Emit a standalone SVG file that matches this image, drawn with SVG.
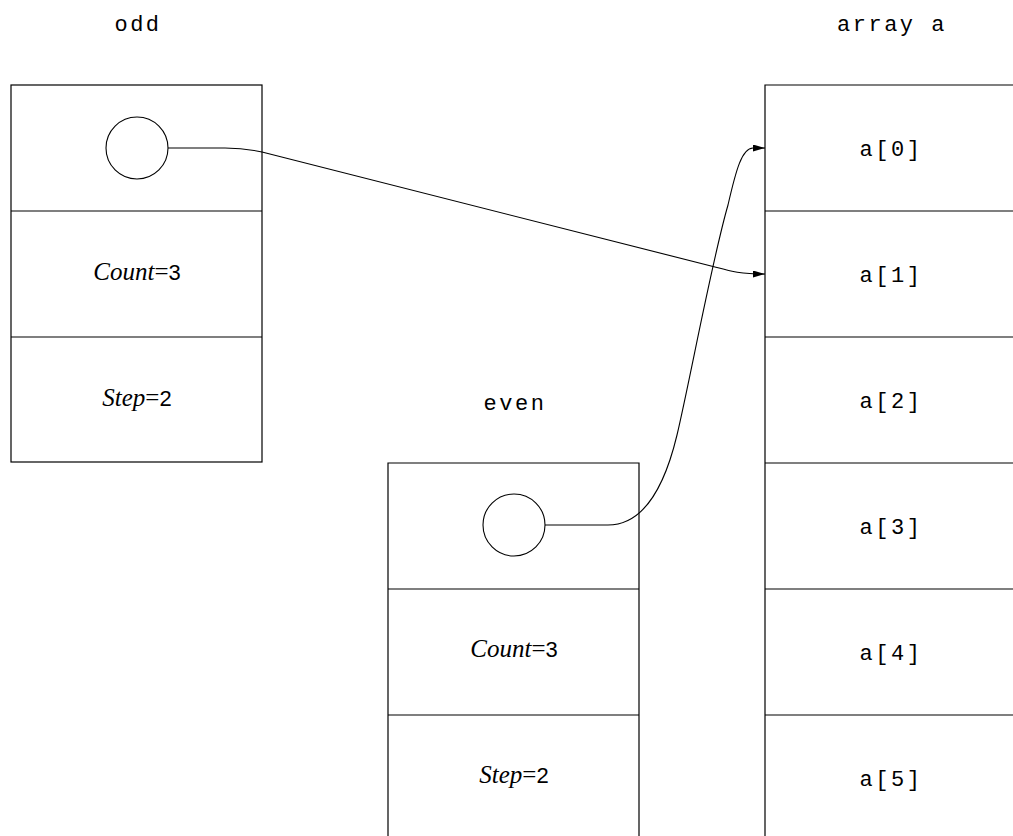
<svg xmlns="http://www.w3.org/2000/svg" width="1013" height="836" viewBox="0 0 1013 836">
<style>
.box{fill:none;stroke:#000;stroke-width:1.2}
.ln{stroke:#000;stroke-width:1.2}
.ptr{fill:none;stroke:#000;stroke-width:1.1}
.mono{font-family:"Liberation Mono","Courier New",monospace;font-size:22px;letter-spacing:2.5px;fill:#000;text-anchor:middle}
.lbl{font-family:"Liberation Serif","Times New Roman",serif;font-size:25px;fill:#000;text-anchor:middle}
.it{font-style:italic}
.sans{font-family:"Liberation Sans",Arial,sans-serif;font-size:22px}
.conn{fill:none;stroke:#000;stroke-width:1.1}
</style>
<defs>
<marker id="ah" markerUnits="userSpaceOnUse" markerWidth="14" markerHeight="10" refX="12" refY="3.5" orient="auto">
<path d="M0,0 L12,3.5 L0,7 Z" fill="#000"/>
</marker>
</defs>
<rect width="1013" height="836" fill="#fff"/>
<g id="odd">
<text class="mono" x="138" y="31">odd</text>
<rect class="box" x="11" y="85" width="251" height="377"/>
<line class="ln" x1="11" y1="211" x2="262" y2="211"/>
<line class="ln" x1="11" y1="337" x2="262" y2="337"/>
<circle class="ptr" cx="137" cy="148" r="31"/>
<text class="lbl" x="137" y="280"><tspan class="it">Count</tspan>=<tspan class="sans">3</tspan></text>
<text class="lbl" x="137" y="406"><tspan class="it">Step</tspan>=<tspan class="sans">2</tspan></text>
</g>
<g id="even">
<text class="mono" x="515" y="410">even</text>
<path class="box" d="M388,840 L388,463 L639,463 L639,840"/>
<line class="ln" x1="388" y1="589" x2="639" y2="589"/>
<line class="ln" x1="388" y1="715" x2="639" y2="715"/>
<circle class="ptr" cx="514" cy="525" r="31"/>
<text class="lbl" x="514" y="657"><tspan class="it">Count</tspan>=<tspan class="sans">3</tspan></text>
<text class="lbl" x="514" y="783"><tspan class="it">Step</tspan>=<tspan class="sans">2</tspan></text>
</g>
<g id="array">
<text class="mono" x="892" y="31">array a</text>
<path class="box" d="M1020,85 L765,85 L765,840"/>
<line class="ln" x1="765" y1="211" x2="1020" y2="211"/>
<line class="ln" x1="765" y1="337" x2="1020" y2="337"/>
<line class="ln" x1="765" y1="463" x2="1020" y2="463"/>
<line class="ln" x1="765" y1="589" x2="1020" y2="589"/>
<line class="ln" x1="765" y1="715" x2="1020" y2="715"/>
<text class="mono" x="891" y="156">a[0]</text>
<text class="mono" x="891" y="282">a[1]</text>
<text class="mono" x="891" y="408">a[2]</text>
<text class="mono" x="891" y="534">a[3]</text>
<text class="mono" x="891" y="660">a[4]</text>
<text class="mono" x="891" y="786">a[5]</text>
</g>
<g id="connectors">
<path class="conn" marker-end="url(#ah)" d="M168,148 L225,148 C240,148 248,149 262,152 L715,267 C730,271 740,274 765,274"/>
<path class="conn" marker-end="url(#ah)" d="M545,525 L608,525 C645,525 665,485 677,435 C690,380 712,260 728,205 C736,170 742,148 753,148 L765,148"/>
</g>
</svg>
